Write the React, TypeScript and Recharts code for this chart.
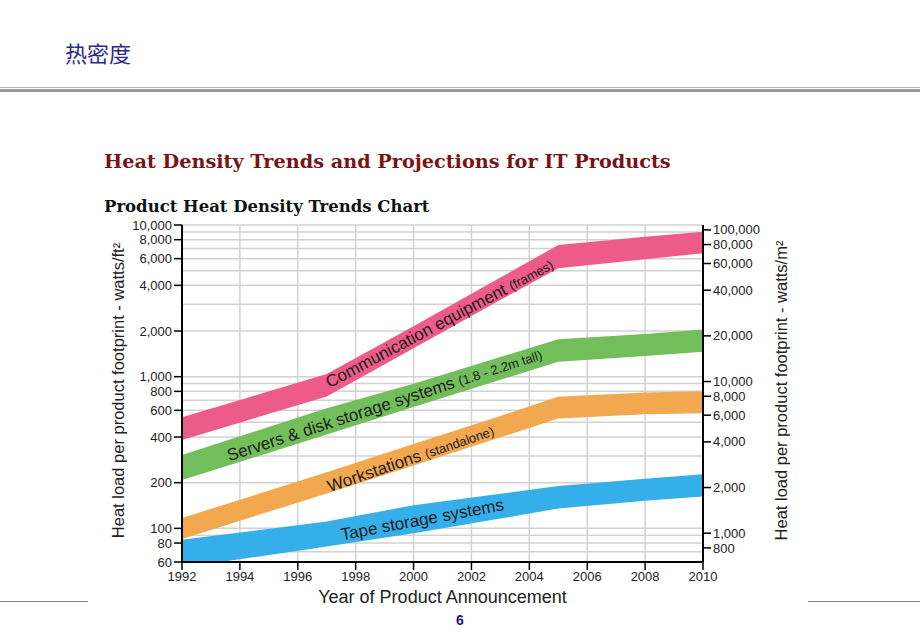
import {
	Area,
	CartesianGrid,
	ComposedChart,
	Label,
	ReferenceDot,
	XAxis,
	YAxis,
} from "recharts";

const years = [1992, 1997, 2000, 2003, 2005, 2008, 2010];

// watts/ft², lower and upper edge of each band
const commLow = [383, 740, 1540, 3200, 5190, 5940, 6510];
const commHigh = [540, 1040, 2150, 4500, 7380, 8375, 9040];
const serversLow = [208, 415, 630, 953, 1256, 1370, 1460];
const serversHigh = [305, 620, 898, 1347, 1765, 1910, 2050];
const workLow = [85, 170, 260, 398, 530, 565, 575];
const workHigh = [117, 234, 360, 550, 738, 785, 800];
const tapeLow = [55, 76, 93, 116, 135, 152, 162];
const tapeHigh = [84, 111, 142, 169, 190, 212, 227];

const yearTicks = [1992, 1994, 1996, 1998, 2000, 2002, 2004, 2006, 2008, 2010];
const gridYears = [1994, 1996, 1998, 2000, 2002, 2004, 2006, 2008];
const ftTicks = [60, 80, 100, 200, 400, 600, 800, 1000, 2000, 4000, 6000, 8000, 10000];
const m2Ticks = [800, 1000, 2000, 4000, 6000, 8000, 10000, 20000, 40000, 60000, 80000, 100000];
const gridValues = [
	60, 70, 80, 90, 100, 200, 300, 400, 500, 600, 700, 800, 900, 1000, 2000, 3000,
	4000, 5000, 6000, 7000, 8000, 9000, 10000,
];

const FT2_TO_M2 = 10.7639;

const bandLabels = [
	{ year: 2000.9, value: 2240, angle: 28, main: "Communication equipment ", note: "(frames)" },
	{ year: 1999.0, value: 650, angle: 18, main: "Servers & disk storage systems ", note: "(1.8 - 2.2m tall)" },
	{ year: 1999.9, value: 288, angle: 19, main: "Workstations ", note: "(standalone)" },
	{ year: 2000.3, value: 114, angle: 10.5, main: "Tape storage systems", note: "" },
];

const data = years.map((year, i) => ({
	year,
	comm: [commLow[i], commHigh[i]],
	servers: [serversLow[i], serversHigh[i]],
	work: [workLow[i], workHigh[i]],
	tape: [tapeLow[i], tapeHigh[i]],
}));

const sans = "'Liberation Sans', Arial, Helvetica, sans-serif";
const serif = "'DejaVu Serif', 'Liberation Serif', serif";
const fmt = (v: number) => v.toLocaleString("en-US");

function BandLabel(props: any) {
	const { cx, cy, item } = props;
	return (
		<text
			x={cx}
			y={cy}
			textAnchor="middle"
			dominantBaseline="central"
			transform={`rotate(${-item.angle} ${cx} ${cy})`}
			fontFamily={sans}
			fontSize={17}
			fill="#1a1a1a"
		>
			{item.main}
			{item.note && <tspan fontSize={13}>{item.note}</tspan>}
		</text>
	);
}

function VerticalTitle(props: any) {
	const { viewBox, value, dx } = props;
	const x = viewBox.x + dx;
	const y = viewBox.y + viewBox.height / 2 - 3;
	return (
		<text
			x={x}
			y={y}
			textAnchor="middle"
			dominantBaseline="central"
			transform={`rotate(-90 ${x} ${y})`}
			fontFamily={sans}
			fontSize={16.5}
			fill="#222"
		>
			{value}
		</text>
	);
}

export default function App() {
	return (
		<div
			style={{
				position: "absolute",
				left: 0,
				top: 0,
				width: 920,
				height: 637,
				background: "#fff",
				overflow: "hidden",
			}}
		>
			<div
				style={{
					position: "absolute",
					left: 65,
					top: 41,
					fontFamily: "'Noto Sans CJK SC', sans-serif",
					fontSize: 22,
					lineHeight: 1,
					color: "#2a2a8c",
				}}
			>
				热密度
			</div>
			<div style={{ position: "absolute", left: 0, top: 87, width: 920, height: 1, background: "#b5b5b5" }} />
			<div style={{ position: "absolute", left: 0, top: 89, width: 920, height: 3, background: "#9a9a9a" }} />

			<div
				style={{
					position: "absolute",
					left: 104,
					top: 152,
					fontFamily: serif,
					fontWeight: "bold",
					fontSize: 19.25,
					lineHeight: 1,
					color: "#7a1414",
					whiteSpace: "nowrap",
				}}
			>
				Heat Density Trends and Projections for IT Products
			</div>
			<div
				style={{
					position: "absolute",
					left: 104,
					top: 199,
					fontFamily: serif,
					fontWeight: "bold",
					fontSize: 16.5,
					lineHeight: 1,
					color: "#111",
					whiteSpace: "nowrap",
				}}
			>
				Product Heat Density Trends Chart
			</div>

			<div style={{ position: "absolute", left: 0, top: 601, width: 88, height: 1, background: "#888" }} />
			<div style={{ position: "absolute", left: 808, top: 601, width: 112, height: 1, background: "#888" }} />
			<div
				style={{
					position: "absolute",
					left: 0,
					width: 920,
					top: 613,
					textAlign: "center",
					fontFamily: sans,
					fontWeight: "bold",
					fontSize: 14,
					lineHeight: 1,
					color: "#1a1a7a",
				}}
			>
				6
			</div>

			<div style={{ position: "absolute", left: 0, top: 0 }}>
				<ComposedChart
					width={920}
					height={637}
					data={data}
					margin={{ top: 225, right: 127, bottom: 35, left: 102 }}
				>
					<CartesianGrid
						stroke="#d2d2d2"
						strokeWidth={1.5}
						horizontalValues={gridValues}
						verticalValues={gridYears}
					/>
					<XAxis
						dataKey="year"
						type="number"
						domain={[1992, 2010]}
						ticks={yearTicks}
						interval={0}
						allowDataOverflow
						height={40}
						tickSize={8}
						axisLine={{ stroke: "#000", strokeWidth: 2 }}
						tickLine={{ stroke: "#000", strokeWidth: 1.5 }}
						tick={{ fontSize: 13, fill: "#222", fontFamily: sans }}
					>
						<Label
							content={(p: any) => (
								<text
									x={p.viewBox.x + p.viewBox.width / 2}
									y={597}
									textAnchor="middle"
									dominantBaseline="central"
									fontFamily={sans}
									fontSize={18}
									fill="#222"
								>
									Year of Product Announcement
								</text>
							)}
						/>
					</XAxis>
					<XAxis
						xAxisId="top"
						orientation="top"
						type="number"
						domain={[1992, 2010]}
						height={0}
						tick={false}
						tickLine={false}
						axisLine={{ stroke: "#000", strokeWidth: 2 }}
					/>
					<YAxis
						scale="log"
						domain={[60, 10000]}
						allowDataOverflow
						ticks={ftTicks}
						interval={0}
						width={80}
						tickSize={8}
						tickFormatter={fmt}
						axisLine={{ stroke: "#000", strokeWidth: 2 }}
						tickLine={{ stroke: "#000", strokeWidth: 1.5 }}
						tick={{ fontSize: 13, fill: "#222", fontFamily: sans }}
					>
						<Label
							content={(p: any) => (
								<VerticalTitle
									viewBox={p.viewBox}
									dx={16}
									value="Heat load per product footprint - watts/ft²"
								/>
							)}
						/>
					</YAxis>
					<YAxis
						yAxisId="right"
						orientation="right"
						scale="log"
						domain={[60 * FT2_TO_M2, 10000 * FT2_TO_M2]}
						allowDataOverflow
						ticks={m2Ticks}
						interval={0}
						width={90}
						tickSize={8}
						tickFormatter={fmt}
						axisLine={{ stroke: "#000", strokeWidth: 2 }}
						tickLine={{ stroke: "#000", strokeWidth: 1.5 }}
						tick={{ fontSize: 13, fill: "#222", fontFamily: sans }}
					>
						<Label
							content={(p: any) => (
								<VerticalTitle
									viewBox={p.viewBox}
									dx={78}
									value="Heat load per product footprint - watts/m²"
								/>
							)}
						/>
					</YAxis>

					<Area type="linear" dataKey="comm" fill="#ec5b89" fillOpacity={1} stroke="none" isAnimationActive={false} />
					<Area type="linear" dataKey="servers" fill="#72be5a" fillOpacity={1} stroke="none" isAnimationActive={false} />
					<Area type="linear" dataKey="work" fill="#f1a84f" fillOpacity={1} stroke="none" isAnimationActive={false} />
					<Area type="linear" dataKey="tape" fill="#34afe9" fillOpacity={1} stroke="none" isAnimationActive={false} />

					{bandLabels.map((l) => (
						<ReferenceDot
							key={l.main}
							x={l.year}
							y={l.value}
							r={0}
							shape={(p: any) => <BandLabel {...p} item={l} />}
						/>
					))}
				</ComposedChart>
			</div>
		</div>
	);
}
